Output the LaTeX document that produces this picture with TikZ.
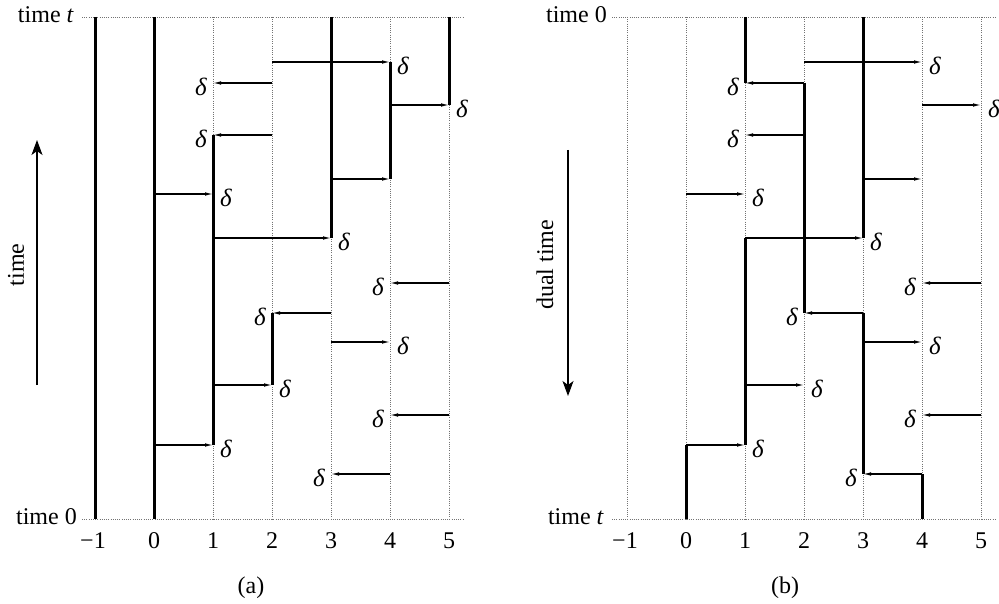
\documentclass[tikz,border=0pt]{standalone}
\usepackage{fontspec}
\setmainfont{Liberation Serif}
\usetikzlibrary{arrows.meta}
\begin{document}
\begin{tikzpicture}[x=1pt,y=-1pt,
  every node/.style={font=\fontsize{24}{28}\selectfont, inner sep=0pt},
  gridline/.style={black!55, line width=0.8pt, dash pattern=on 0.9pt off 1.3pt},
  thickline/.style={line width=3pt, line cap=butt},
  jump/.style={line width=1.1pt, -{Latex[length=8pt,width=3.6pt]}},
  timearrow/.style={line width=1.1pt, -{Stealth[length=15pt,width=11pt,inset=4pt]}},
  dlabel/.style={font=\fontsize{25}{29}\selectfont\itshape}
]
\useasboundingbox (0,0) rectangle (999,604);

% ---------- grids ----------
\foreach \p/\ox/\xl/\xr/\kmin in {A/154/82/464/1, B/686/612/995/-1}{
  \coordinate (\p tl) at (\xl,17);  \coordinate (\p tr) at (\xr,17);
  \coordinate (\p bl) at (\xl,519); \coordinate (\p br) at (\xr,519);
  \draw[gridline] (\p tl) -- (\p tr);
  \draw[gridline] (\p bl) -- (\p br);
  \foreach \k in {\kmin,...,5}{
    \coordinate (\p gt\k) at ({\ox+59*\k},17);
    \coordinate (\p gb\k) at ({\ox+59*\k},519);
    \draw[gridline] (\p gt\k) -- (\p gb\k);
  }
  \foreach \k/\lab in {-1/{\textminus1},0/0,1/1,2/2,3/3,4/4,5/5}{
    \node[anchor=base] (\p num\k) at ({\ox+59*\k-(\k==-1?2:0)},548) {\lab};
  }
}

% ---------- thick lines ----------
\foreach \p/\ox/\k/\ya/\yb [count=\i] in {
  A/154/-1/17/519, A/154/0/17/519, A/154/1/135/445, A/154/2/313/385,
  A/154/3/17/238, A/154/4/62/179, A/154/5/17/105,
  B/686/1/17/83, B/686/2/83/313, B/686/3/17/238, B/686/3/313/474,
  B/686/1/238/445, B/686/0/445/519, B/686/4/474/519}{
  \coordinate (th\i a) at ({\ox+59*\k},\ya);
  \coordinate (th\i b) at ({\ox+59*\k},\yb);
  \draw[thickline] (th\i a) -- (th\i b);
}

% ---------- jumps ----------
\foreach \p/\ox in {A/154, B/686}{
  \foreach \y/\a/\b/\lbl [count=\i] in {
    62/2/4/1, 83/2/1/1, 105/4/5/1, 135/2/1/1, 179/3/4/0, 194/0/1/1,
    238/1/3/1, 283/5/4/1, 313/3/2/1, 342/3/4/1, 385/1/2/1, 415/5/4/1,
    445/0/1/1, 474/4/3/1}{
    \coordinate (\p js\i) at ({\ox+59*\a},\y);
    \coordinate (\p je\i) at ({\ox+59*\b},\y);
    \draw[jump] (\p js\i) -- (\p je\i);
    \ifnum\lbl=1
      \ifnum\b>\a
        \node[dlabel, anchor=west] (\p d\i) at ([xshift=7pt,yshift=-4pt]\p je\i) {δ};
      \else
        \node[dlabel, anchor=east] (\p d\i) at ([xshift=-6pt,yshift=-4pt]\p je\i) {δ};
      \fi
    \fi
  }
}

% ---------- time labels ----------
\node[anchor=base east] (Att) at (74,23) {time \textit{t}};
\node[anchor=base east] (At0) at (77,524) {time 0};
\node[anchor=base east] (Bt0) at (607,23) {time 0};
\node[anchor=base east] (Btt) at (604,524) {time \textit{t}};

% ---------- time arrows ----------
\coordinate (Aa1) at (37,385); \coordinate (Aa2) at (37,140);
\draw[timearrow] (Aa1) -- (Aa2);
\node[rotate=90] (Atime) at (16,265) {time};
\coordinate (Ba1) at (568,150); \coordinate (Ba2) at (568,396);
\draw[timearrow] (Ba1) -- (Ba2);
\node[rotate=90] (Bdual) at (545,265) {dual time};

% ---------- captions ----------
\node[anchor=base] (capA) at (251,593) {(a)};
\node[anchor=base] (capB) at (785,593) {(b)};
\end{tikzpicture}
\end{document}
